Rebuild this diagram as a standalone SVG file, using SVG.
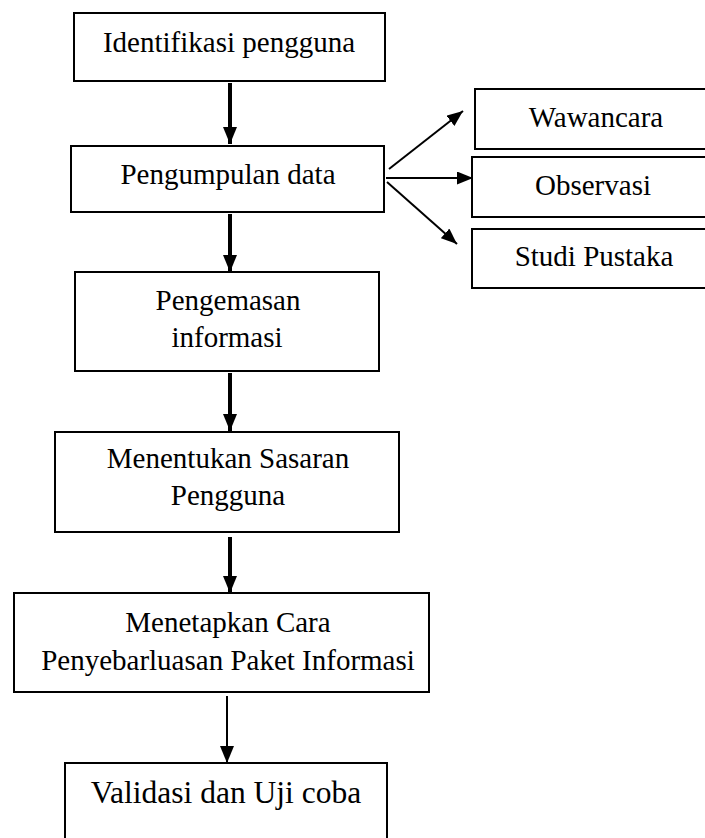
<svg xmlns="http://www.w3.org/2000/svg" width="705" height="838" viewBox="0 0 705 838">
<style>
.box{fill:#fff;stroke:#000;stroke-width:2}
.t{font-family:'Liberation Serif',Tinos,'Times New Roman',Times,'DejaVu Serif',serif;font-size:29px;fill:#000;text-anchor:middle}
.thick{stroke:#000;stroke-width:4;fill:none}
.thin{stroke:#000;stroke-width:2;fill:none}
</style>
<defs>
<marker id="ah" markerUnits="userSpaceOnUse" markerWidth="17" markerHeight="14" refX="17" refY="7" orient="auto">
<path d="M0,0 L17,7 L0,14 z" fill="#000"/>
</marker>
<marker id="as" markerUnits="userSpaceOnUse" markerWidth="16" markerHeight="13" refX="16" refY="6.5" orient="auto">
<path d="M0,0 L16,6.5 L0,13 z" fill="#000"/>
</marker>
</defs>
<g id="connectors">
<line class="thick" x1="230" y1="83" x2="230" y2="144" marker-end="url(#ah)"/>
<line class="thick" x1="230" y1="214" x2="230" y2="272" marker-end="url(#ah)"/>
<line class="thick" x1="230" y1="373" x2="230" y2="431" marker-end="url(#ah)"/>
<line class="thick" x1="230" y1="537" x2="230" y2="593" marker-end="url(#ah)"/>
<line class="thin" x1="227" y1="696" x2="227" y2="763" marker-end="url(#ah)"/>
<line class="thin" x1="389" y1="169" x2="463" y2="111" marker-end="url(#as)"/>
<line class="thin" x1="386" y1="178" x2="473" y2="178" marker-end="url(#as)"/>
<line class="thin" x1="387" y1="182" x2="457" y2="244" marker-end="url(#as)"/>
</g>
<g id="n1"><rect class="box" x="74" y="13" width="311" height="68"/><text class="t" x="229" y="52" font-family="Liberation Serif, serif">Identifikasi pengguna</text></g>
<g id="n2"><rect class="box" x="71" y="146" width="313" height="66"/><text class="t" x="228" y="184">Pengumpulan data</text></g>
<g id="n3"><rect class="box" x="75" y="272" width="304" height="99"/><text class="t" x="228" y="310">Pengemasan</text><text class="t" x="227" y="347">informasi</text></g>
<g id="n4"><rect class="box" x="55" y="432" width="344" height="100"/><text class="t" x="228" y="468">Menentukan Sasaran</text><text class="t" x="228" y="505">Pengguna</text></g>
<g id="n5"><rect class="box" x="14" y="593" width="415" height="99"/><text class="t" x="228" y="632">Menetapkan Cara</text><text class="t" x="228" y="670">Penyebarluasan Paket Informasi</text></g>
<g id="n6"><rect class="box" x="65" y="763" width="322" height="90"/><text class="t" x="226" y="803" style="font-size:31.5px">Validasi dan Uji coba</text></g>
<g id="s1"><rect class="box" x="475" y="89" width="240" height="60"/><text class="t" x="596" y="127">Wawancara</text></g>
<g id="s2"><rect class="box" x="472" y="157" width="243" height="60"/><text class="t" x="593" y="195">Observasi</text></g>
<g id="s3"><rect class="box" x="472" y="229" width="243" height="59"/><text class="t" x="594" y="266">Studi Pustaka</text></g>
</svg>
